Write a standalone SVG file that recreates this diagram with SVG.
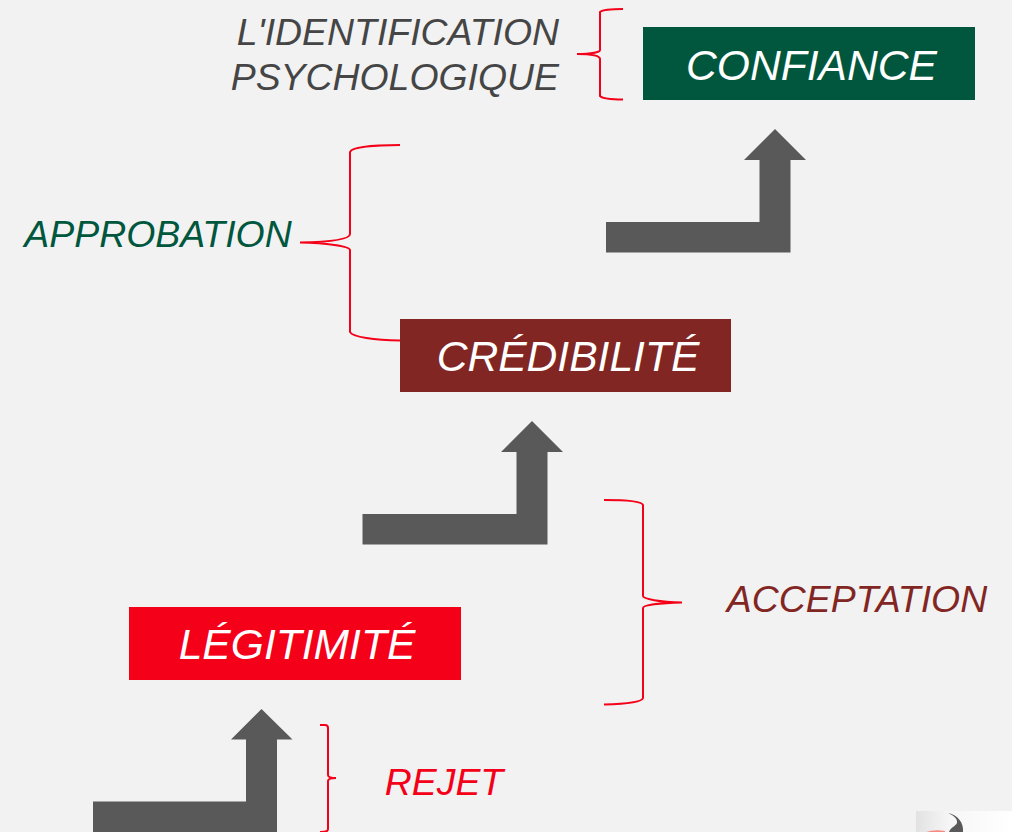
<svg xmlns="http://www.w3.org/2000/svg" width="1012" height="832" viewBox="0 0 1012 832">
<defs>
<linearGradient id="g1" x1="0" x2="1" y1="0" y2="0"><stop offset="0" stop-color="#f2f2f2"/><stop offset="1" stop-color="#ffffff"/></linearGradient>
<linearGradient id="g2" x1="0" x2="1" y1="0" y2="0"><stop offset="0" stop-color="#e2e2e2"/><stop offset="1" stop-color="#f6f6f6"/></linearGradient>
</defs>
<style>
.t{font-family:"Liberation Sans",Arial,sans-serif;font-style:italic}
.w{font-size:42.6px;fill:#fff}
.l{font-size:37.4px}
.a{fill:#595959}
.b{fill:none;stroke:#f40018;stroke-width:2}
</style>
<rect width="1012" height="832" fill="#f2f2f2"/>
<g id="logo">
<rect x="916" y="811" width="96" height="21" fill="url(#g1)"/>
<rect x="916" y="811" width="34" height="21" fill="url(#g2)"/>
<path d="M948 813C958 815 964 823 963 832H949C951 826 958 826 957 821C956 817 952 815 948 813Z" fill="#5a5a5a"/>
<path d="M926 832Q935 829 945 831V832Z" fill="#f58a80"/>
</g>
<g id="connectors">
<path class="a" d="M606 252.500V222H759.500V160H744L775 129L806 160H790.500V252.500Z"/>
<path class="a" d="M362.500 544.500V514H516.500V452H501L532 421L563 452H547.500V544.500Z"/>
<path class="a" d="M93 832V801.500H246V739.500H231L261.500 709L292.500 739.500H277V832Z"/>
<path class="b" d="M623 9C612 9 603 9.500 600 12V50C600 52 592 54 577 54C592 54 600 56 600 59V96C603 99 612 99.500 623 99.500"/>
<path class="b" d="M400 145C375 145 352 147 350 152V234C350 240 325 242 300 242.500C325 243 350 246 350 250V332C352 337 375 340 400 340.500"/>
<path class="b" d="M604 500C625 500 642 501 643 505V596C643 599 660 602 682 602.500C660 603 643 605 643 608V698C642 702 625 704 604 704.500"/>
<path class="b" d="M320 725H325C327 725 328 726 328 728V775C328 777 330 778 336 778C330 778 328 779 328 781V829C328 831 327 832 320 832"/>
</g>
<g id="node-confiance">
<rect x="643" y="27" width="332" height="73" fill="#00573d"/>
<text class="t w" x="811.500" y="80" text-anchor="middle">CONFIANCE</text>
</g>
<g id="node-credibilite">
<rect x="400" y="319" width="331" height="73" fill="#822623"/>
<text class="t w" x="568" y="371" text-anchor="middle">CRÉDIBILITÉ</text>
</g>
<g id="node-legitimite">
<rect x="129" y="607" width="332" height="73" fill="#f40018"/>
<text class="t w" x="297" y="659" text-anchor="middle">LÉGITIMITÉ</text>
</g>
<g id="label-identification">
<text class="t l" x="559" y="45" text-anchor="end" fill="#454545">L'IDENTIFICATION</text>
<text class="t l" x="559" y="90" text-anchor="end" fill="#454545">PSYCHOLOGIQUE</text>
</g>
<g id="label-approbation"><text class="t l" x="158" y="247" text-anchor="middle" fill="#00573d">APPROBATION</text></g>
<g id="label-acceptation"><text class="t l" x="857" y="612" text-anchor="middle" fill="#822623">ACCEPTATION</text></g>
<g id="label-rejet"><text class="t l" x="444" y="795" text-anchor="middle" fill="#f40018">REJET</text></g>
</svg>
